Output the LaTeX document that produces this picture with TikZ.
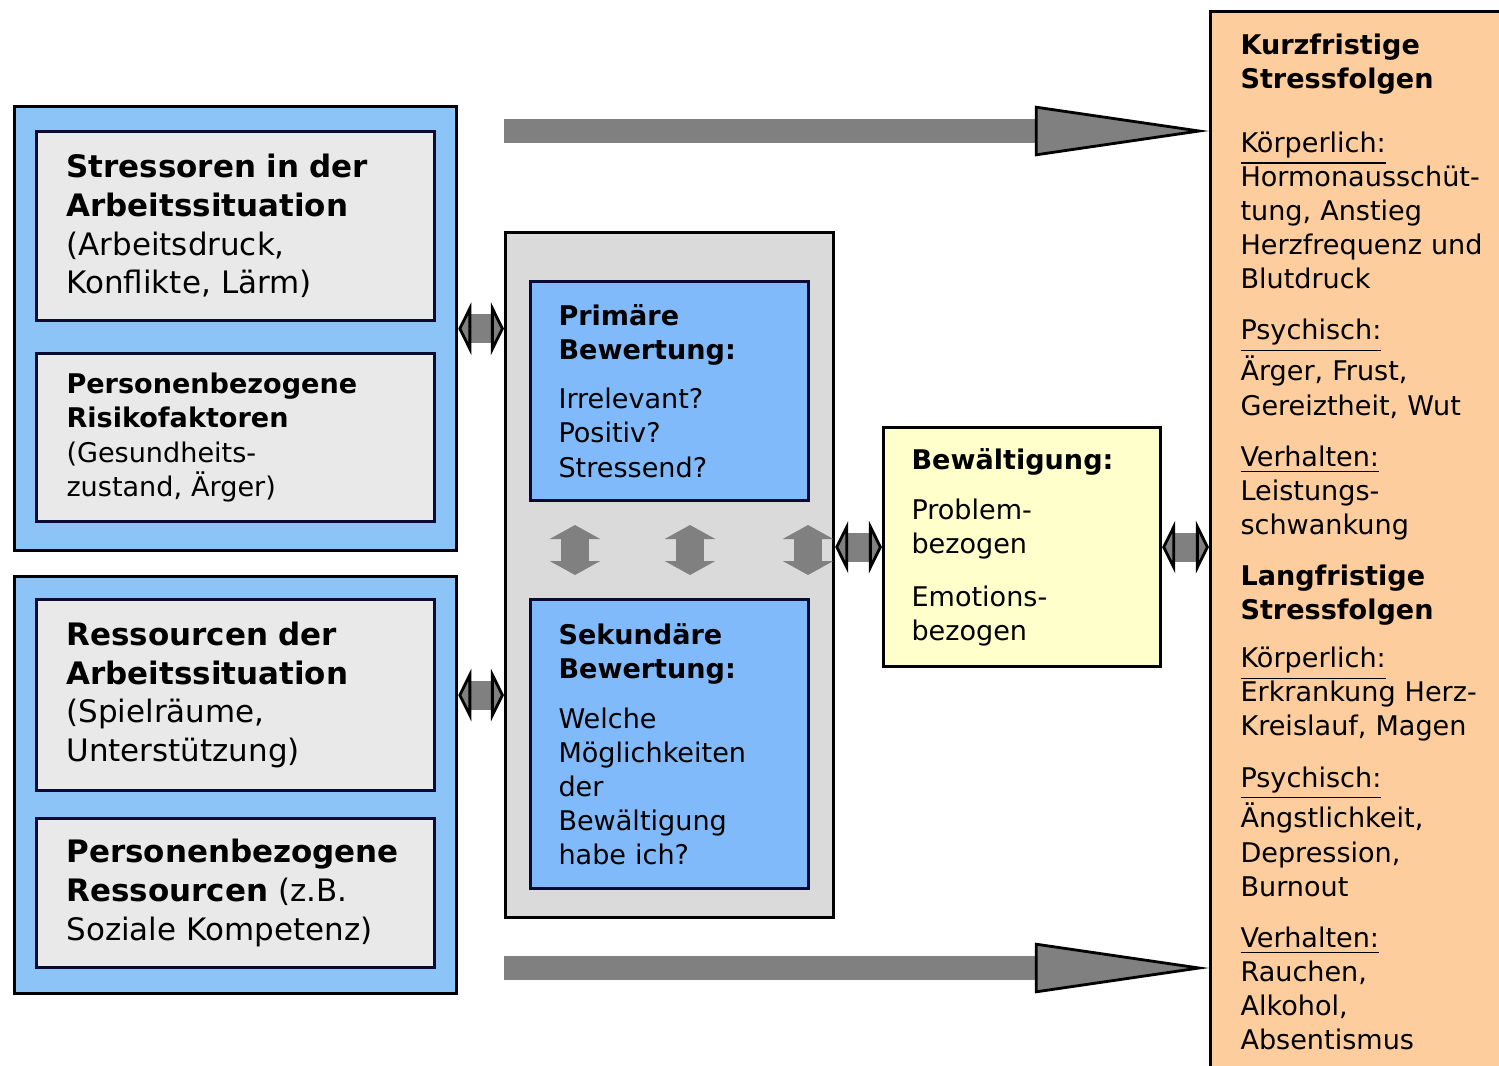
\documentclass[tikz,border=0pt]{standalone}
\usepackage{fontspec}
\setmainfont{DejaVu Sans}
\usetikzlibrary{arrows.meta}

\definecolor{outerblue}{RGB}{140,196,248}
\definecolor{innerblue}{RGB}{128,186,250}
\definecolor{boxgray}{RGB}{233,233,233}
\definecolor{midgray}{RGB}{218,218,218}
\definecolor{bewyellow}{RGB}{255,255,204}
\definecolor{folgenorange}{RGB}{253,205,157}
\definecolor{arrowgray}{RGB}{128,128,128}
\definecolor{navyline}{RGB}{10,10,50}

\newcommand{\smalltext}{\fontsize{7.7}{9.7}\selectfont}
\newcommand{\bigtext}{\fontsize{8.8}{11}\selectfont}

\tikzstyle{outer} = [rectangle, draw=black, line width=0.85pt, fill=outerblue, anchor=north west, inner sep=0pt]
\tikzstyle{grey} = [rectangle, draw=navyline, line width=0.85pt, fill=boxgray, anchor=north west, inner ysep=0pt, inner xsep=0.3cm, align=left]
\tikzstyle{blue} = [rectangle, draw=navyline, line width=0.85pt, fill=innerblue, anchor=north west, inner ysep=0pt, inner xsep=0.28cm, align=left, font=\smalltext]
\tikzstyle{dblarrow} = [line width=0.29cm, draw=arrowgray, {Triangle[length=0.13cm,width=0.52cm,line width=0.8pt,fill=arrowgray,color=black]}-{Triangle[length=0.13cm,width=0.52cm,line width=0.8pt,fill=arrowgray,color=black]}]
\tikzstyle{vertarrow} = [line width=0.27cm, draw=arrowgray, {Triangle[length=0.14cm,width=0.5cm,fill=arrowgray]}-{Triangle[length=0.14cm,width=0.5cm,fill=arrowgray]}]
\tikzstyle{bigarrow} = [line width=0.24cm, draw=arrowgray, -{Triangle[length=1.74cm,width=0.5cm,line width=0.8pt,fill=arrowgray,color=black]}]

\begin{document}
\begin{tikzpicture}[x=0.01cm, y=-0.01cm]
\useasboundingbox (0,0) rectangle (1499,1066);

% left side
\node (obstress) [outer, minimum width=4.42cm, minimum height=4.44cm] at (13,105) {};
\node (obres) [outer, minimum width=4.42cm, minimum height=4.17cm] at (13,575) {};

\node (stressoren) [grey, font=\bigtext, text width=3.38cm, minimum height=1.89cm] at (35,130)
  {\textbf{Stressoren in der}\\\textbf{Arbeitssituation}\\(Arbeitsdruck,\\Konflikte, Lärm)};
\node (risiko) [grey, font=\smalltext, text width=3.38cm, minimum height=1.68cm] at (35,352)
  {\textbf{Personenbezogene}\\\textbf{Risikofaktoren}\\(Gesundheits-\\zustand, Ärger)};
\node (ressarbeit) [grey, font=\bigtext, text width=3.38cm, minimum height=1.91cm] at (35,598)
  {\textbf{Ressourcen der}\\\textbf{Arbeitssituation}\\(Spielräume,\\Unterstützung)};
\node (resspers) [grey, font=\bigtext, text width=3.38cm, minimum height=1.49cm] at (35,817)
  {\textbf{Personenbezogene}\\\textbf{Ressourcen} (z.B.\\Soziale Kompetenz)};

% bewertung
\node (mid) [rectangle, draw=black, line width=0.85pt, fill=midgray, anchor=north west, minimum width=3.28cm, minimum height=6.85cm] at (504,231) {};
\node (primaer) [blue, text width=2.22cm, minimum height=2.19cm] at (529,280)
  {\textbf{Primäre}\\\textbf{Bewertung:}\\[0.15cm]Irrelevant?\\Positiv?\\Stressend?};
\node (sekundaer) [blue, text width=2.22cm, minimum height=2.89cm] at (529,598)
  {\textbf{Sekundäre}\\\textbf{Bewertung:}\\[0.16cm]Welche\\Möglichkeiten\\der\\Bewältigung\\habe ich?};

% bewaeltigung
\node (bew) [rectangle, draw=black, line width=0.85pt, fill=bewyellow, anchor=north west, inner ysep=0pt, inner xsep=0.28cm, align=left, font=\smalltext, text width=2.21cm, minimum height=2.39cm] at (882,426)
  {\textbf{Bewältigung:}\\[0.16cm]Problem-\\bezogen\\[0.19cm]Emotions-\\bezogen};

% folgen
\node (folgen) [rectangle, draw=black, line width=0.85pt, fill=folgenorange, anchor=north west, inner ysep=0pt, inner xsep=0.3cm, align=left, font=\smalltext, text width=2.6cm, minimum height=10.6cm] at (1209,10)
  {\textbf{Kurzfristige}\\\textbf{Stressfolgen}\\[0.3cm]
   \underline{Körperlich:}\\Hormonausschüt-\\tung, Anstieg\\Herzfrequenz und\\Blutdruck\\[0.17cm]
   \underline{Psychisch:}\\Ärger, Frust,\\Gereiztheit, Wut\\[0.17cm]
   \underline{Verhalten:}\\Leistungs-\\schwankung\\[0.17cm]
   \textbf{Langfristige}\\\textbf{Stressfolgen}\\[0.14cm]
   \underline{Körperlich:}\\Erkrankung Herz-\\Kreislauf, Magen\\[0.17cm]
   \underline{Psychisch:}\\Ängstlichkeit,\\Depression,\\Burnout\\[0.17cm]
   \underline{Verhalten:}\\Rauchen,\\Alkohol,\\Absentismus};

% arrows
\coordinate (kurzstart) at (504,131);
\coordinate (langstart) at (504,968);
\draw [bigarrow] (kurzstart) -- (kurzstart -| folgen.west);
\draw [bigarrow] (langstart) -- (langstart -| folgen.west);

\draw [dblarrow] (obstress.east) -- (obstress.east -| mid.west);
\draw [dblarrow] (obres.east |- ressarbeit.center) -- (ressarbeit.center -| mid.west);
\draw [dblarrow] (bew.west -| mid.east) -- (bew.west);
\draw [dblarrow] (bew.east) -- (bew.east -| folgen.west);

\foreach \vx [count=\i] in {575,690,808} {
  \coordinate (up\i) at (\vx,525);
  \coordinate (dn\i) at (\vx,575);
  \draw [vertarrow] (up\i) -- (dn\i);
}
\end{tikzpicture}
\end{document}
